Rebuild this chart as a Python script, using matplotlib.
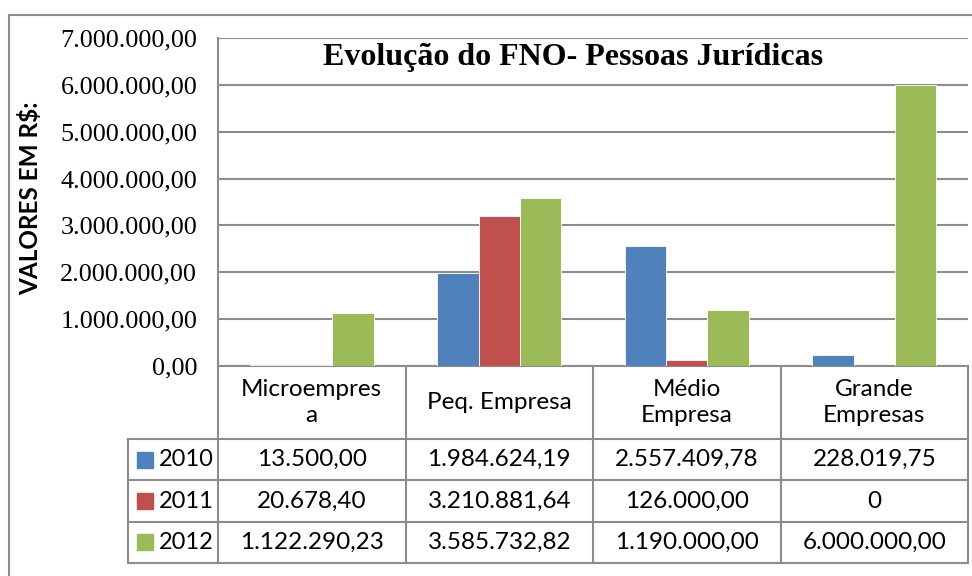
import matplotlib.pyplot as plt
import numpy as np
from matplotlib.patches import Rectangle
from matplotlib.ticker import FuncFormatter

# data
categorias = ["Microempres\na", "Peq. Empresa", "Médio\nEmpresa", "Grande\nEmpresas"]
anos = ["2010", "2011", "2012"]
v2010 = [13500.00, 1984624.19, 2557409.78, 228019.75]
v2011 = [20678.40, 3210881.64, 126000.00, 0]
v2012 = [1122290.23, 3585732.82, 1190000.00, 6000000.00]
rotulos = [
    ["13.500,00", "1.984.624,19", "2.557.409,78", "228.019,75"],
    ["20.678,40", "3.210.881,64", "126.000,00", "0"],
    ["1.122.290,23", "3.585.732,82", "1.190.000,00", "6.000.000,00"],
]
cores = ["#4F81BD", "#C0504D", "#9BBB59"]
cinza = "#8C8C8C"

W, H = 972, 576
fig = plt.figure(figsize=(9.72, 5.76), dpi=100)
ax = fig.add_axes([218 / W, 1 - 366 / H, (968 - 218) / W, (366 - 38) / H])

# outer chart border
fig.add_artist(Rectangle((9 / W, -0.2), 1.2, 1.2 - 15 / H, transform=fig.transFigure,
                         fill=False, edgecolor=cinza, lw=1.5))

x = np.arange(len(categorias))
bw = 0.22
for i, vals in enumerate([v2010, v2011, v2012]):
    ax.bar(x + (i - 1) * bw, vals, bw, color=cores[i], edgecolor="white", lw=0.6, zorder=3)

ax.set_xlim(-0.5, 3.5)
ax.set_ylim(0, 7000000)
ax.set_yticks(np.arange(0, 7000001, 1000000))
ax.yaxis.set_major_formatter(FuncFormatter(
    lambda v, p: f"{v:,.2f}".replace(",", "X").replace(".", ",").replace("X", ".")))
ax.tick_params(axis="y", length=0, pad=15, labelsize=18.8)
for t in ax.get_yticklabels():
    t.set_fontfamily("Liberation Serif")
ax.set_xticks([])
ax.grid(axis="y", color=cinza, lw=1.5, zorder=0)
for s in ["top", "right", "bottom"]:
    ax.spines[s].set_visible(False)
ax.spines["left"].set_color(cinza)
ax.spines["left"].set_linewidth(1.5)

ax.text(0.474, 0.94, "Evolução do FNO- Pessoas Jurídicas", transform=ax.transAxes,
        ha="center", va="center", fontfamily="Liberation Serif",
        fontweight="bold", fontsize=23)
fig.text(30 / W, 1 - 198 / H, "VALORES EM R$:", rotation=90, ha="center", va="center",
         fontfamily="Lato", fontweight="bold", fontsize=17.5)

# data table under the axis
tr = ax.get_xaxis_transform()
hdr = -(439 - 366) / 328
rh = (563 - 439) / 3 / 328
left = -0.5 - 90 / 188
kw = dict(transform=tr, color=cinza, lw=1.5, clip_on=False)
ax.plot([-0.5, 3.5], [0, 0], **kw)
for k in range(4):
    y = hdr - k * rh
    ax.plot([left, 3.5], [y, y], **kw)
ax.plot([left, left], [hdr, hdr - 3 * rh], **kw)
for b in np.arange(-0.5, 3.6, 1):
    ax.plot([b, b], [0, hdr - 3 * rh], **kw)

for j, c in enumerate(categorias):
    ax.text(j, hdr / 2, c, transform=tr, ha="center", va="center",
            fontfamily="Lato", fontsize=17.5, linespacing=1.35)
for i, ano in enumerate(anos):
    y = hdr - (i + 0.5) * rh
    ax.plot([-0.5 - (218 - 144.5) / 188], [y], marker="s", ms=11, color=cores[i],
            transform=tr, clip_on=False, lw=0)
    ax.text(-0.5 - 59 / 188, y, ano, transform=tr, ha="left", va="center",
            fontfamily="Lato", fontsize=17)
    for j in range(len(categorias)):
        ax.text(j, y, rotulos[i][j], transform=tr, ha="center", va="center",
                fontfamily="Lato", fontsize=17.5)

fig.savefig("out.png", dpi=100)
